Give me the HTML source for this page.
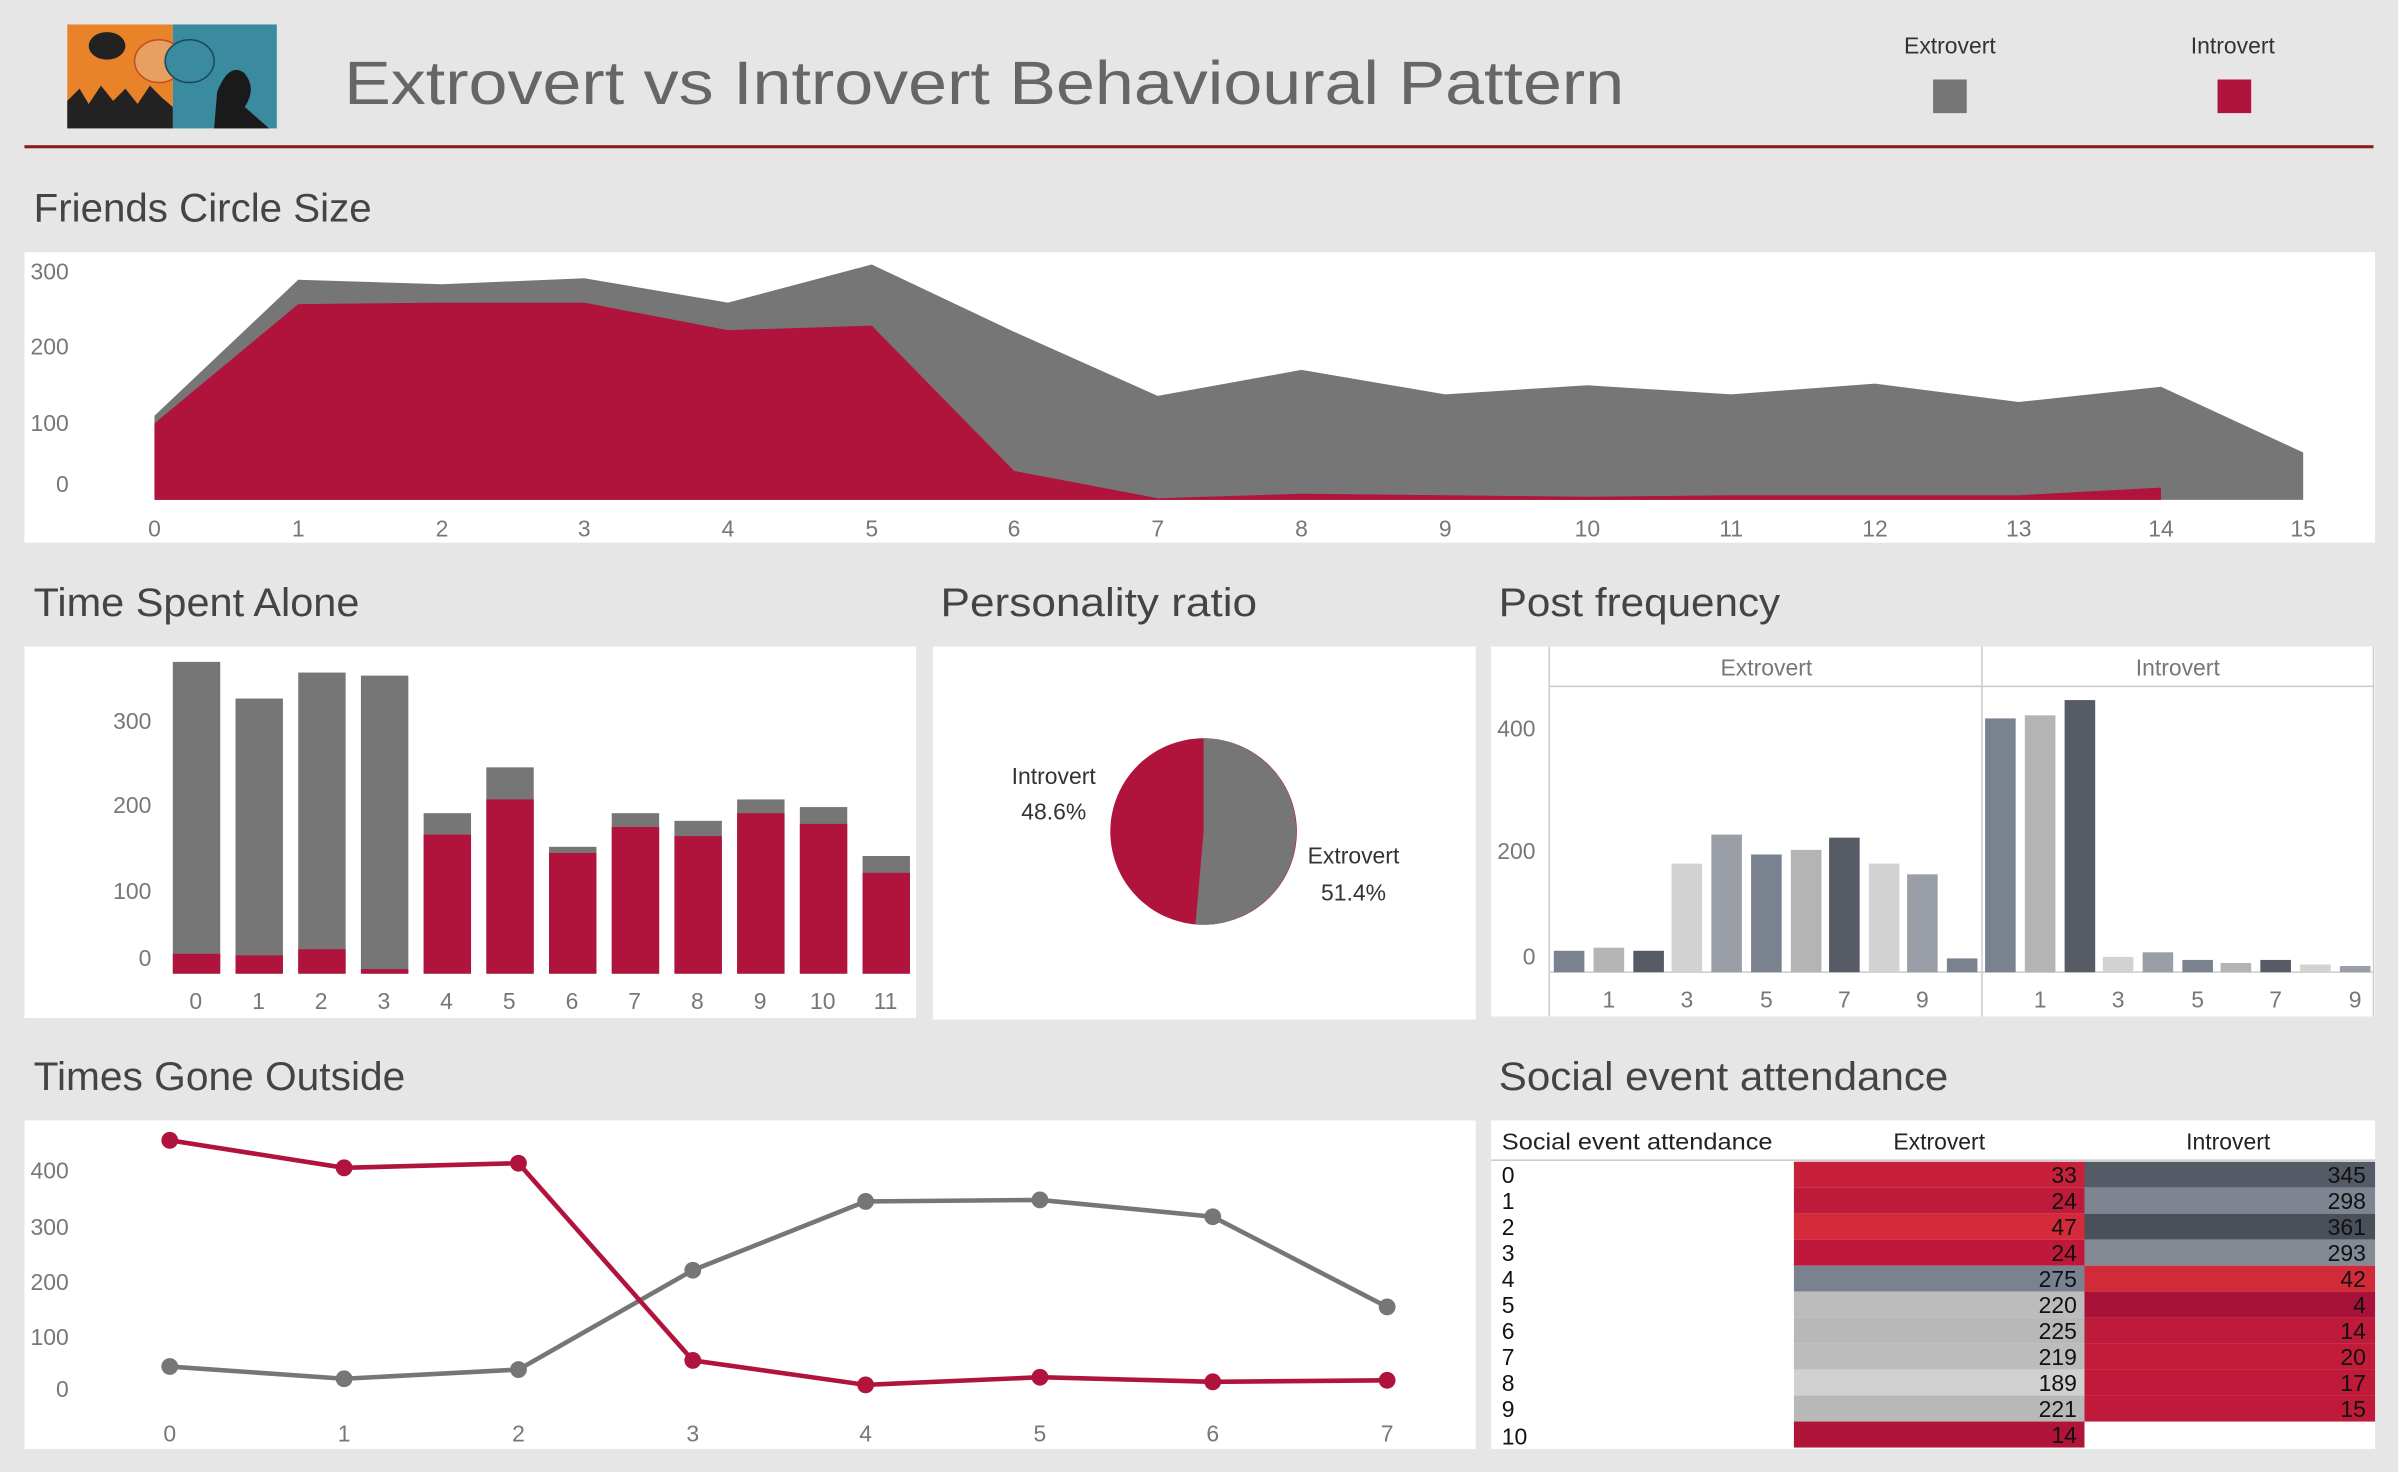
<!DOCTYPE html>
<html><head><meta charset="utf-8"><style>
html,body{margin:0;padding:0;background:#e6e6e6;}
svg{display:block;font-family:"Liberation Sans",sans-serif;}
</style></head><body>
<svg width="2398" height="1472" viewBox="0 0 1568 963" preserveAspectRatio="none" xmlns="http://www.w3.org/2000/svg">
<rect width="1568" height="963" fill="#e6e6e6"/>
<!-- logo -->
<rect x="44" y="16" width="69" height="68" fill="#e8832a"/>
<rect x="113" y="16" width="68" height="68" fill="#3a8aa0"/>
<path d="M44 84 L44 66 L52 58 L58 68 L66 56 L74 66 L82 58 L90 68 L98 56 L106 64 L113 70 L113 84Z" fill="#222"/>
<path d="M140 84 L142 60 Q150 40 160 48 Q168 58 160 70 L176 84Z" fill="#1a1a1a"/>
<ellipse cx="104" cy="40" rx="16" ry="14" fill="#e8a060" stroke="#c05020"/>
<ellipse cx="124" cy="40" rx="16" ry="14" fill="#3a8aa0" stroke="#1a4a5a"/>
<ellipse cx="70" cy="30" rx="12" ry="9" fill="#222"/>
<text x="225" y="68" font-size="40" fill="#666" textLength="837" lengthAdjust="spacingAndGlyphs">Extrovert vs Introvert Behavioural Pattern</text>
<text x="1275" y="35" font-size="15" fill="#333" text-anchor="middle">Extrovert</text>
<rect x="1264" y="52" width="22" height="22" fill="#767676"/>
<text x="1460" y="35" font-size="15" fill="#333" text-anchor="middle">Introvert</text>
<rect x="1450" y="52" width="22" height="22" fill="#b0143c"/>
<rect x="16" y="95" width="1536" height="2" fill="#8b1a1a"/>

<!-- Friends circle -->
<text x="22" y="145" font-size="26" fill="#444" textLength="221" lengthAdjust="spacingAndGlyphs">Friends Circle Size</text>
<rect x="16" y="165" width="1537" height="190" fill="#fff"/>
<g font-size="15" fill="#777">
<text x="45" y="183" text-anchor="end">300</text><text x="45" y="232" text-anchor="end">200</text><text x="45" y="282" text-anchor="end">100</text><text x="45" y="322" text-anchor="end">0</text>
</g>
<polygon fill="#767676" points="101,327 101,272 195,183 289,186 382,182 476,198 570,173 663,217 757,259 851,242 945,258 1038,252 1132,258 1226,251 1320,263 1413,253 1506,296 1506,327"/>
<polygon fill="#b0143c" points="101,327 101,277 195,199 289,198 382,198 476,216 570,213 663,308 757,326 851,323 945,324 1038,325 1132,324 1226,324 1320,324 1413,319 1413,327"/>
<g font-size="15" fill="#777" text-anchor="middle">
<text x="101" y="351">0</text><text x="195" y="351">1</text><text x="289" y="351">2</text><text x="382" y="351">3</text><text x="476" y="351">4</text><text x="570" y="351">5</text><text x="663" y="351">6</text><text x="757" y="351">7</text><text x="851" y="351">8</text><text x="945" y="351">9</text><text x="1038" y="351">10</text><text x="1132" y="351">11</text><text x="1226" y="351">12</text><text x="1320" y="351">13</text><text x="1413" y="351">14</text><text x="1506" y="351">15</text>
</g>

<!-- Time spent alone -->
<text x="22" y="403" font-size="26" fill="#444" textLength="213" lengthAdjust="spacingAndGlyphs">Time Spent Alone</text>
<rect x="16" y="423" width="583" height="243" fill="#fff"/>
<g font-size="15" fill="#777" text-anchor="end">
<text x="99" y="477">300</text><text x="99" y="532">200</text><text x="99" y="588">100</text><text x="99" y="632">0</text>
</g>
<g fill="#767676">
<rect x="113" y="433" width="31" height="204"/><rect x="154" y="457" width="31" height="180"/><rect x="195" y="440" width="31" height="197"/><rect x="236" y="442" width="31" height="195"/><rect x="277" y="532" width="31" height="105"/><rect x="318" y="502" width="31" height="135"/><rect x="359" y="554" width="31" height="83"/><rect x="400" y="532" width="31" height="105"/><rect x="441" y="537" width="31" height="100"/><rect x="482" y="523" width="31" height="114"/><rect x="523" y="528" width="31" height="109"/><rect x="564" y="560" width="31" height="77"/>
</g>
<g fill="#b0143c">
<rect x="113" y="624" width="31" height="13"/><rect x="154" y="625" width="31" height="12"/><rect x="195" y="621" width="31" height="16"/><rect x="236" y="634" width="31" height="3"/><rect x="277" y="546" width="31" height="91"/><rect x="318" y="523" width="31" height="114"/><rect x="359" y="558" width="31" height="79"/><rect x="400" y="541" width="31" height="96"/><rect x="441" y="547" width="31" height="90"/><rect x="482" y="532" width="31" height="105"/><rect x="523" y="539" width="31" height="98"/><rect x="564" y="571" width="31" height="66"/>
</g>
<g font-size="15" fill="#777" text-anchor="middle">
<text x="128" y="660">0</text><text x="169" y="660">1</text><text x="210" y="660">2</text><text x="251" y="660">3</text><text x="292" y="660">4</text><text x="333" y="660">5</text><text x="374" y="660">6</text><text x="415" y="660">7</text><text x="456" y="660">8</text><text x="497" y="660">9</text><text x="538" y="660">10</text><text x="579" y="660">11</text>
</g>

<!-- Personality ratio -->
<text x="615" y="403" font-size="26" fill="#444" textLength="207" lengthAdjust="spacingAndGlyphs">Personality ratio</text>
<rect x="610" y="423" width="355" height="244" fill="#fff"/>
<circle cx="787" cy="544" r="61" fill="#b0143c"/>
<path d="M787 544 L787 483 A61 61 0 1 1 781.7 604.8 Z" fill="#767676"/>
<g font-size="15" fill="#333" text-anchor="middle">
<text x="689" y="513">Introvert</text><text x="689" y="536">48.6%</text>
<text x="885" y="565">Extrovert</text><text x="885" y="589">51.4%</text>
</g>

<!-- Post frequency -->
<text x="980" y="403" font-size="26" fill="#444" textLength="184" lengthAdjust="spacingAndGlyphs">Post frequency</text>
<rect x="975" y="423" width="578" height="242" fill="#fff"/>
<g stroke="#ccc" stroke-width="1" fill="none">
<line x1="1013" y1="423" x2="1013" y2="665"/><line x1="1296" y1="423" x2="1296" y2="665"/><line x1="1552" y1="423" x2="1552" y2="665"/>
<line x1="1013" y1="449" x2="1552" y2="449"/><line x1="1013" y1="636" x2="1552" y2="636"/>
</g>
<text x="1155" y="442" font-size="15" fill="#777" text-anchor="middle">Extrovert</text>
<text x="1424" y="442" font-size="15" fill="#777" text-anchor="middle">Introvert</text>
<g font-size="15" fill="#777" text-anchor="end">
<text x="1004" y="482">400</text><text x="1004" y="562">200</text><text x="1004" y="631">0</text>
</g>
<g>
<rect x="1016" y="622" width="20" height="14" fill="#7a8290"/>
<rect x="1042" y="620" width="20" height="16" fill="#b4b4b4"/>
<rect x="1068" y="622" width="20" height="14" fill="#565b65"/>
<rect x="1093" y="565" width="20" height="71" fill="#d2d2d2"/>
<rect x="1119" y="546" width="20" height="90" fill="#9a9ea6"/>
<rect x="1145" y="559" width="20" height="77" fill="#7a8290"/>
<rect x="1171" y="556" width="20" height="80" fill="#b4b4b4"/>
<rect x="1196" y="548" width="20" height="88" fill="#565b65"/>
<rect x="1222" y="565" width="20" height="71" fill="#d2d2d2"/>
<rect x="1247" y="572" width="20" height="64" fill="#9a9ea6"/>
<rect x="1273" y="627" width="20" height="9" fill="#7a8290"/>
<rect x="1298" y="470" width="20" height="166" fill="#7a8290"/>
<rect x="1324" y="468" width="20" height="168" fill="#b4b4b4"/>
<rect x="1350" y="458" width="20" height="178" fill="#565b65"/>
<rect x="1375" y="626" width="20" height="10" fill="#d2d2d2"/>
<rect x="1401" y="623" width="20" height="13" fill="#9a9ea6"/>
<rect x="1427" y="628" width="20" height="8" fill="#7a8290"/>
<rect x="1452" y="630" width="20" height="6" fill="#b4b4b4"/>
<rect x="1478" y="628" width="20" height="8" fill="#565b65"/>
<rect x="1504" y="631" width="20" height="5" fill="#d2d2d2"/>
<rect x="1530" y="632" width="20" height="4" fill="#9a9ea6"/>
</g>
<g font-size="15" fill="#777" text-anchor="middle">
<text x="1052" y="659">1</text><text x="1103" y="659">3</text><text x="1155" y="659">5</text><text x="1206" y="659">7</text><text x="1257" y="659">9</text>
<text x="1334" y="659">1</text><text x="1385" y="659">3</text><text x="1437" y="659">5</text><text x="1488" y="659">7</text><text x="1540" y="659">9</text>
</g>

<!-- Times gone outside -->
<text x="22" y="713" font-size="26" fill="#444" textLength="243" lengthAdjust="spacingAndGlyphs">Times Gone Outside</text>
<rect x="16" y="733" width="949" height="215" fill="#fff"/>
<g font-size="15" fill="#777" text-anchor="end">
<text x="45" y="771">400</text><text x="45" y="808">300</text><text x="45" y="844">200</text><text x="45" y="880">100</text><text x="45" y="914">0</text>
</g>
<polyline fill="none" stroke="#767676" stroke-width="3" points="111,894 225,902 339,896 453,831 566,786 680,785 793,796 907,855"/>
<g fill="#767676"><circle cx="111" cy="894" r="5.5"/><circle cx="225" cy="902" r="5.5"/><circle cx="339" cy="896" r="5.5"/><circle cx="453" cy="831" r="5.5"/><circle cx="566" cy="786" r="5.5"/><circle cx="680" cy="785" r="5.5"/><circle cx="793" cy="796" r="5.5"/><circle cx="907" cy="855" r="5.5"/></g>
<polyline fill="none" stroke="#b0143c" stroke-width="3" points="111,746 225,764 339,761 453,890 566,906 680,901 793,904 907,903"/>
<g fill="#b0143c"><circle cx="111" cy="746" r="5.5"/><circle cx="225" cy="764" r="5.5"/><circle cx="339" cy="761" r="5.5"/><circle cx="453" cy="890" r="5.5"/><circle cx="566" cy="906" r="5.5"/><circle cx="680" cy="901" r="5.5"/><circle cx="793" cy="904" r="5.5"/><circle cx="907" cy="903" r="5.5"/></g>
<g font-size="15" fill="#777" text-anchor="middle">
<text x="111" y="943">0</text><text x="225" y="943">1</text><text x="339" y="943">2</text><text x="453" y="943">3</text><text x="566" y="943">4</text><text x="680" y="943">5</text><text x="793" y="943">6</text><text x="907" y="943">7</text>
</g>

<!-- Social event attendance -->
<text x="980" y="713" font-size="26" fill="#444" textLength="294" lengthAdjust="spacingAndGlyphs">Social event attendance</text>
<rect x="975" y="733" width="578" height="215" fill="#fff"/>
<line x1="975" y1="759" x2="1553" y2="759" stroke="#ccc"/>
<g font-size="15" fill="#222">
<text x="982" y="752" textLength="177" lengthAdjust="spacingAndGlyphs">Social event attendance</text>
<text x="1268" y="752" text-anchor="middle">Extrovert</text>
<text x="1457" y="752" text-anchor="middle">Introvert</text>
</g>
<g>
<rect x="1173" y="760" width="190" height="17" fill="#c8203a"/>
<rect x="1173" y="777" width="190" height="17" fill="#be1a3a"/>
<rect x="1173" y="794" width="190" height="17" fill="#d42a3a"/>
<rect x="1173" y="811" width="190" height="17" fill="#c0183a"/>
<rect x="1173" y="828" width="190" height="17" fill="#7a8290"/>
<rect x="1173" y="845" width="190" height="17" fill="#bcbcbc"/>
<rect x="1173" y="862" width="190" height="17" fill="#b8b8b8"/>
<rect x="1173" y="879" width="190" height="17" fill="#bcbcbc"/>
<rect x="1173" y="896" width="190" height="17" fill="#d0d0d0"/>
<rect x="1173" y="913" width="190" height="17" fill="#b8b8b8"/>
<rect x="1173" y="930" width="190" height="17" fill="#b01438"/>
<rect x="1363" y="760" width="190" height="17" fill="#555b66"/>
<rect x="1363" y="777" width="190" height="17" fill="#7e8590"/>
<rect x="1363" y="794" width="190" height="17" fill="#4a505a"/>
<rect x="1363" y="811" width="190" height="17" fill="#838a94"/>
<rect x="1363" y="828" width="190" height="17" fill="#d22a38"/>
<rect x="1363" y="845" width="190" height="17" fill="#a81238"/>
<rect x="1363" y="862" width="190" height="17" fill="#be1a3a"/>
<rect x="1363" y="879" width="190" height="17" fill="#c21c3a"/>
<rect x="1363" y="896" width="190" height="17" fill="#c01a3a"/>
<rect x="1363" y="913" width="190" height="17" fill="#bf1a3a"/>
</g>
<g font-size="15" fill="#111">
<text x="982" y="774">0</text><text x="982" y="791">1</text><text x="982" y="808">2</text><text x="982" y="825">3</text><text x="982" y="842">4</text><text x="982" y="859">5</text><text x="982" y="876">6</text><text x="982" y="893">7</text><text x="982" y="910">8</text><text x="982" y="927">9</text><text x="982" y="945">10</text>
</g>
<g font-size="15" fill="#111" text-anchor="end">
<text x="1358" y="774">33</text><text x="1358" y="791">24</text><text x="1358" y="808">47</text><text x="1358" y="825">24</text><text x="1358" y="842">275</text><text x="1358" y="859">220</text><text x="1358" y="876">225</text><text x="1358" y="893">219</text><text x="1358" y="910">189</text><text x="1358" y="927">221</text><text x="1358" y="944">14</text>
<text x="1547" y="774">345</text><text x="1547" y="791">298</text><text x="1547" y="808">361</text><text x="1547" y="825">293</text><text x="1547" y="842">42</text><text x="1547" y="859">4</text><text x="1547" y="876">14</text><text x="1547" y="893">20</text><text x="1547" y="910">17</text><text x="1547" y="927">15</text>
</g>
</svg>
</body></html>
